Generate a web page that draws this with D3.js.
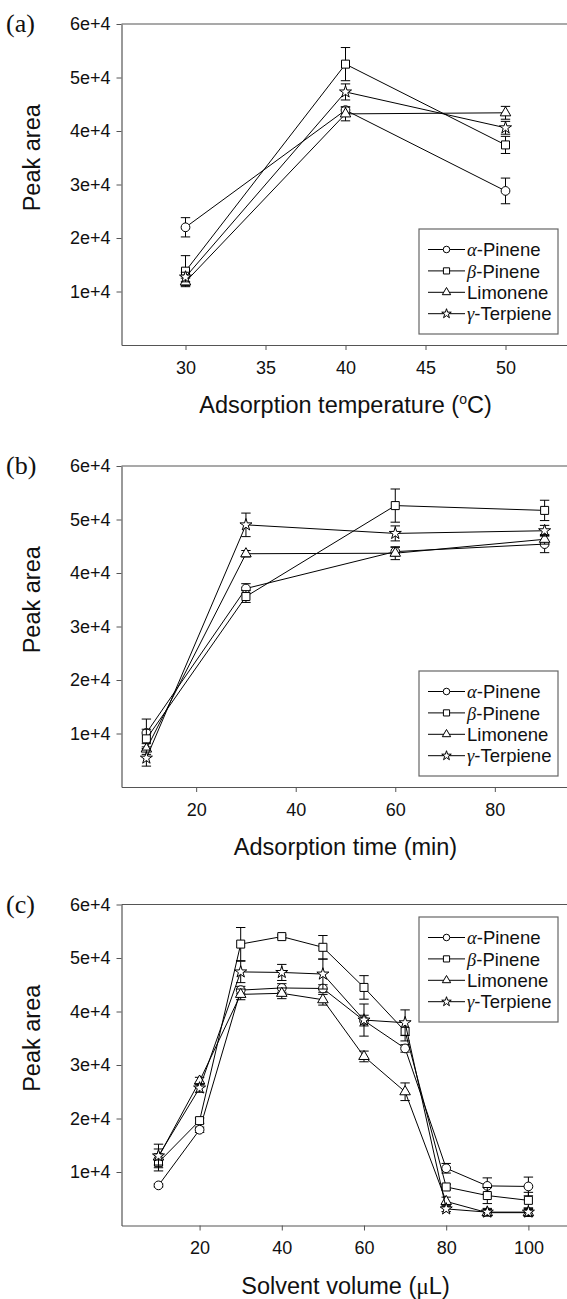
<!DOCTYPE html>
<html>
<head>
<meta charset="utf-8">
<script src="https://cdn.jsdelivr.net/npm/d3@7"></script>
<style>
html,body{margin:0;padding:0;background:#fff;}
svg{display:block;}
</style>
</head>
<body>
<svg id="chart" width="567" height="1299"></svg>
<script>
// ---------- DATA ----------
const seriesNames = ["α-Pinene", "β-Pinene", "Limonene", "γ-Terpiene"];
const yTickValues = [10000, 20000, 30000, 40000, 50000, 60000];
const yTickLabels = ["1e+4", "2e+4", "3e+4", "4e+4", "5e+4", "6e+4"];

// (a) Adsorption temperature
const tempX = [30, 40, 50];
const tempTicks = [30, 35, 40, 45, 50];
const tempAlpha = [22000, 43900, 28800];
const tempAlphaErr = [1800, 600, 2400];
const tempBeta = [13800, 52500, 37400];
const tempBetaErr = [2900, 3100, 1600];
const tempLim = [11800, 43200, 43400];
const tempLimErr = [700, 1300, 1200];
const tempGamma = [12700, 47300, 40600];
const tempGammaErr = [900, 1500, 1200];

// (b) Adsorption time
const timeX = [10, 30, 60, 90];
const timeTicks = [20, 40, 60, 80];
const timeAlpha = [10100, 37100, 44000, 45400];
const timeAlphaErr = [2600, 900, 800, 1600];
const timeBeta = [9000, 35600, 52600, 51700];
const timeBetaErr = [1800, 1100, 3100, 1900];
const timeLim = [7100, 43600, 43700, 46300];
const timeLimErr = [1000, 600, 1200, 900];
const timeGamma = [5400, 49000, 47400, 47900];
const timeGammaErr = [1500, 2200, 1400, 1000];

// (c) Solvent volume
const volX = [10, 20, 30, 40, 50, 60, 70, 80, 90, 100];
const volTicks = [20, 40, 60, 80, 100];
const volAlpha = [7500, 17900, 44000, 44400, 44300, 38300, 33100, 10700, 7400, 7300];
const volAlphaErr = [300, 500, 700, 800, 700, 1000, 700, 900, 1500, 1750];
const volBeta = [11800, 19600, 52600, 54000, 52000, 44500, 36300, 7200, 5600, 4700];
const volBetaErr = [1600, 500, 3100, 300, 2200, 2200, 1800, 500, 1500, 1500];
const volLim = [12800, 27000, 43200, 43400, 42200, 31600, 25000, 4500, 2400, 2400];
const volLimErr = [1500, 700, 1000, 1000, 1000, 1000, 1650, 800, 600, 600];
const volGamma = [13000, 25700, 47400, 47300, 47000, 38400, 37900, 3100, 2500, 2500];
const volGammaErr = [2200, 800, 2000, 1500, 2800, 3000, 2400, 500, 700, 800];

// ---------- DRAWING ----------
const svg = d3.select("#chart");
const SANS = "'Liberation Sans', Arial, Helvetica, sans-serif";
const SERIF = "'Liberation Serif', 'Times New Roman', serif";
const symbols = [d3.symbolCircle, d3.symbolSquare, d3.symbolTriangle, d3.symbolStar];
const plotSizes = [60, 64, 48, 45];
const legendSizes = [34, 38, 30, 28];

const left = 121.5, right = 569.5, plotH = 321;

function drawPanel(cfg) {
  const g = svg.append("g");
  const top = cfg.top, bottom = top + plotH;
  const x = d3.scaleLinear().domain(cfg.xDomain).range([left, right]);
  const y = d3.scaleLinear().domain([0, 60000]).range([bottom, top]);

  // frame
  g.append("line").attr("x1", left).attr("x2", right).attr("y1", top).attr("y2", top)
    .attr("stroke", "#555").attr("stroke-width", 1.2);
  g.append("line").attr("x1", right).attr("x2", right).attr("y1", top).attr("y2", bottom)
    .attr("stroke", "#555").attr("stroke-width", 1.2);

  // axes
  const yAx = g.append("g").attr("transform", `translate(${left},0)`)
    .call(d3.axisLeft(y).tickValues(yTickValues)
      .tickFormat((d, i) => yTickLabels[i]).tickSize(5).tickSizeOuter(0).tickPadding(6));
  const xAx = g.append("g").attr("transform", `translate(0,${bottom})`)
    .call(d3.axisBottom(x).tickValues(cfg.xTicks).tickFormat(d3.format("d"))
      .tickSize(5).tickSizeOuter(0).tickPadding(11));
  [yAx, xAx].forEach(a => {
    a.select(".domain").attr("stroke", "#555").attr("stroke-width", 1.2);
    a.selectAll(".tick line").attr("stroke", "#555");
    a.selectAll(".tick text").attr("font-family", SANS).attr("font-size", 18).attr("fill", "#111");
  });

  // axis titles
  g.append("text").attr("transform", `translate(40,${y(35000)}) rotate(-90)`)
    .attr("text-anchor", "middle").attr("font-family", SANS).attr("font-size", 23.5)
    .attr("fill", "#111").text("Peak area");
  const xt = g.append("text").attr("x", (left + right) / 2).attr("y", bottom + 68)
    .attr("text-anchor", "middle").attr("font-family", SANS).attr("font-size", 23.5).attr("fill", "#111");
  cfg.xTitle(xt);

  // panel label
  g.append("text").attr("x", 6).attr("y", top + 8).attr("font-family", SERIF)
    .attr("font-size", 26).attr("fill", "#111").text(cfg.label);

  // series
  const line = d3.line().x(d => x(d[0])).y(d => y(d[1]));
  cfg.series.forEach((s, si) => {
    const pts = cfg.xs.map((xv, i) => [xv, s.v[i], s.e[i]]);
    const sg = g.append("g");
    sg.append("path").datum(pts).attr("d", line).attr("fill", "none")
      .attr("stroke", "#000").attr("stroke-width", 1);
    pts.forEach(p => {
      const cx = x(p[0]), y1 = y(p[1] + p[2]), y2 = y(p[1] - p[2]);
      sg.append("line").attr("x1", cx).attr("x2", cx).attr("y1", y1).attr("y2", y2)
        .attr("stroke", "#000").attr("stroke-width", 1);
      [y1, y2].forEach(yy => sg.append("line").attr("x1", cx - 4.7).attr("x2", cx + 4.7)
        .attr("y1", yy).attr("y2", yy).attr("stroke", "#000").attr("stroke-width", 1));
    });
    sg.selectAll("path.m").data(pts).enter().append("path").attr("class", "m")
      .attr("transform", d => `translate(${x(d[0])},${y(d[1])})`)
      .attr("d", d3.symbol().type(symbols[si]).size(plotSizes[si]))
      .attr("fill", "#fff").attr("stroke", "#000").attr("stroke-width", 1);
  });

  // legend
  const lg = g.append("g").attr("transform", `translate(419,${top + cfg.legendOffset})`);
  lg.append("rect").attr("x", 0).attr("y", 0).attr("width", 139).attr("height", 105)
    .attr("fill", "#fff").attr("stroke", "#666").attr("stroke-width", 1.2);
  seriesNames.forEach((name, i) => {
    const ly = 20.5 + i * 21.4;
    lg.append("line").attr("x1", 9).attr("x2", 46).attr("y1", ly).attr("y2", ly)
      .attr("stroke", "#000").attr("stroke-width", 1);
    lg.append("path").attr("transform", `translate(27.5,${ly})`)
      .attr("d", d3.symbol().type(symbols[i]).size(legendSizes[i]))
      .attr("fill", "#fff").attr("stroke", "#000").attr("stroke-width", 1);
    const t = lg.append("text").attr("x", 48).attr("y", ly + 6.6)
      .attr("font-family", SANS).attr("font-size", 18.5).attr("fill", "#111");
    if (name[0] === "α" || name[0] === "γ" || name[0] === "β") {
      t.append("tspan").attr("font-family", SERIF).attr("font-style", "italic").text(name[0]);
      t.append("tspan").text(name.slice(1));
    } else {
      t.text(name);
    }
  });
}

drawPanel({
  top: 24, label: "(a)", xDomain: [26, 54], xTicks: tempTicks, xs: tempX, legendOffset: 205,
  xTitle: t => {
    t.append("tspan").text("Adsorption temperature (");
    t.append("tspan").attr("font-size", 14).attr("dy", -9).text("o");
    t.append("tspan").attr("dy", 9).text("C)");
  },
  series: [
    {v: tempAlpha, e: tempAlphaErr}, {v: tempBeta, e: tempBetaErr},
    {v: tempLim, e: tempLimErr}, {v: tempGamma, e: tempGammaErr}
  ]
});

drawPanel({
  top: 466, label: "(b)", xDomain: [5, 95], xTicks: timeTicks, xs: timeX, legendOffset: 205,
  xTitle: t => t.text("Adsorption time (min)"),
  series: [
    {v: timeAlpha, e: timeAlphaErr}, {v: timeBeta, e: timeBetaErr},
    {v: timeLim, e: timeLimErr}, {v: timeGamma, e: timeGammaErr}
  ]
});

drawPanel({
  top: 904.5, label: "(c)", xDomain: [1, 110], xTicks: volTicks, xs: volX, legendOffset: 12.5,
  xTitle: t => {
    t.append("tspan").text("Solvent volume (");
    t.append("tspan").attr("font-family", SERIF).text("μ");
    t.append("tspan").text("L)");
  },
  series: [
    {v: volAlpha, e: volAlphaErr}, {v: volBeta, e: volBetaErr},
    {v: volLim, e: volLimErr}, {v: volGamma, e: volGammaErr}
  ]
});
</script>
</body>
</html>
